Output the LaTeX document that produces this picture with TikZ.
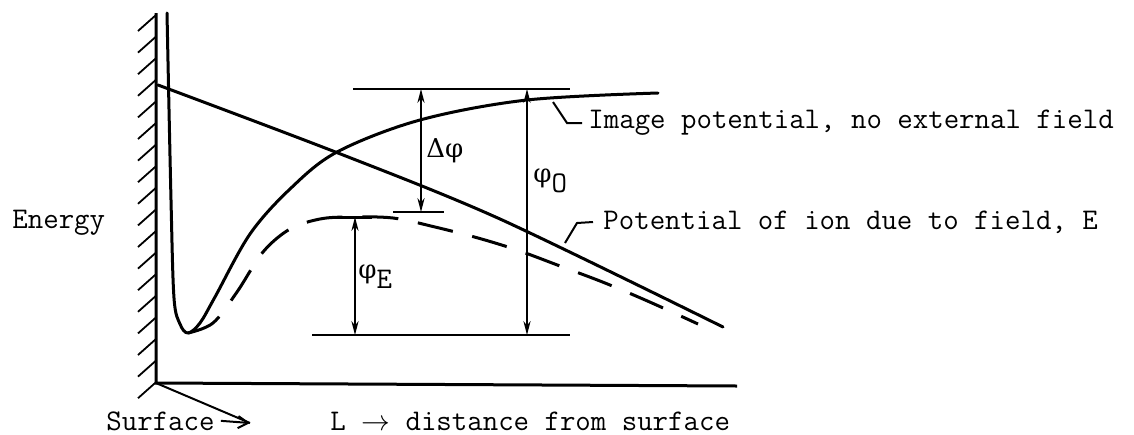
\documentclass[tikz,border=0pt]{standalone}
\usepackage{fontspec}
\newfontfamily\grk{DejaVu Serif}
\usepackage{tikz}
\usetikzlibrary{arrows.meta}

\begin{document}
\begin{tikzpicture}[x=0.5pt, y=-0.5pt,
    lbl/.style    = {inner sep=0pt, font=\fontsize{15}{17}\selectfont\ttfamily},
    glbl/.style   = {inner sep=0pt, anchor=west, font=\fontsize{13}{15}\selectfont\grk},
    curve/.style  = {line width=1.5pt, line cap=round, line join=round},
    dcurve/.style = {line width=1.5pt, dash pattern=on 18pt off 10pt},
    thin/.style   = {line width=0.7pt},
    dim/.style    = {{Stealth[length=7pt, width=3.6pt]}-{Stealth[length=7pt, width=3.6pt]},
                     line width=0.7pt},
    lead/.style   = {line width=1pt}
]
\useasboundingbox (0,0) rectangle (1134,434);

% --- Wall and axis -------------------------------------------------------
\coordinate (wtop)   at (156,13);
\coordinate (corner) at (156,383);
\coordinate (axend)  at (737,386);
\draw[line width=1.5pt] (wtop) -- (corner) -- (axend);
\foreach \i in {0,...,17}
  \draw[line width=0.9pt] (156,{15+\i*21.6}) -- ++(-18,16);

% --- Potential curves ------------------------------------------------------
% image potential (solid)
\draw[curve] plot[smooth, tension=0.55] coordinates {
  (167,13) (171,200) (174,298) (180,324) (188,333) (200,323) (215,297)
  (250,234) (290,189) (337,152) (420,120) (527,100) (658,93)};
% potential of ion in the field (dashed)
\draw[dcurve] plot[smooth, tension=0.55] coordinates {
  (188,333) (213,323) (237,292) (263,252) (290,229) (320,219) (350,217)
  (393,218) (435,227) (478,238) (517,250) (560,266) (605,283) (652,303)
  (698,324)};
% field line
\draw[curve] plot[smooth, tension=0.5] coordinates {
  (158,85) (338,153) (500,219) (723,327)};

% --- Reference levels ------------------------------------------------------
\draw[thin] (353,89)  -- (570,89);
\draw[thin] (393,212) -- (444,212);
\draw[thin] (312,335) -- (570,335);
\draw[line width=1.5pt] (333,217) -- (372,217);

% --- Dimension arrows --------------------------------------------------------
\draw[dim] (421,89)  -- (421,212);
\draw[dim] (355,217) -- (355,335);
\draw[dim] (527,89)  -- (527,335);

\node[glbl] (dphi) at (426,151) {Δφ};
\node[glbl] (phie) at (358,277) {φ\raisebox{-5pt}{\fontsize{15}{17}\selectfont\ttfamily E}};
\node[glbl] (phio) at (533,181) {φ\raisebox{-5pt}{\fontsize{15}{17}\selectfont\ttfamily O}};

% --- Labels and leaders ------------------------------------------------------
\node[lbl, anchor=base west] (energy) at (12,228)  {Energy};
\node[lbl, anchor=base west] (surf)   at (106,430) {Surface};
\node[lbl, anchor=base west] (dist)   at (330,430) {L $\rightarrow$ distance from surface};
\node[lbl, anchor=west] (img) at (588,123) {Image potential, no external field};
\node[lbl, anchor=west] (pot) at (603,222) {Potential of ion due to field, E};

\coordinate (kink) at (250,423);
\draw[lead, -{Straight Barb[length=5pt, width=6pt]}] ([xshift=3pt]surf.east) -- (kink);
\draw[lead] (kink) -- (corner);

\coordinate (imgc) at (553,102);
\draw[lead] (imgc) -- (567,123) -- ([xshift=-3pt]img.west);
\coordinate (potc) at (565,243);
\draw[lead] (potc) -- (577,223) -- ([xshift=-5pt]pot.west);
\end{tikzpicture}
\end{document}
